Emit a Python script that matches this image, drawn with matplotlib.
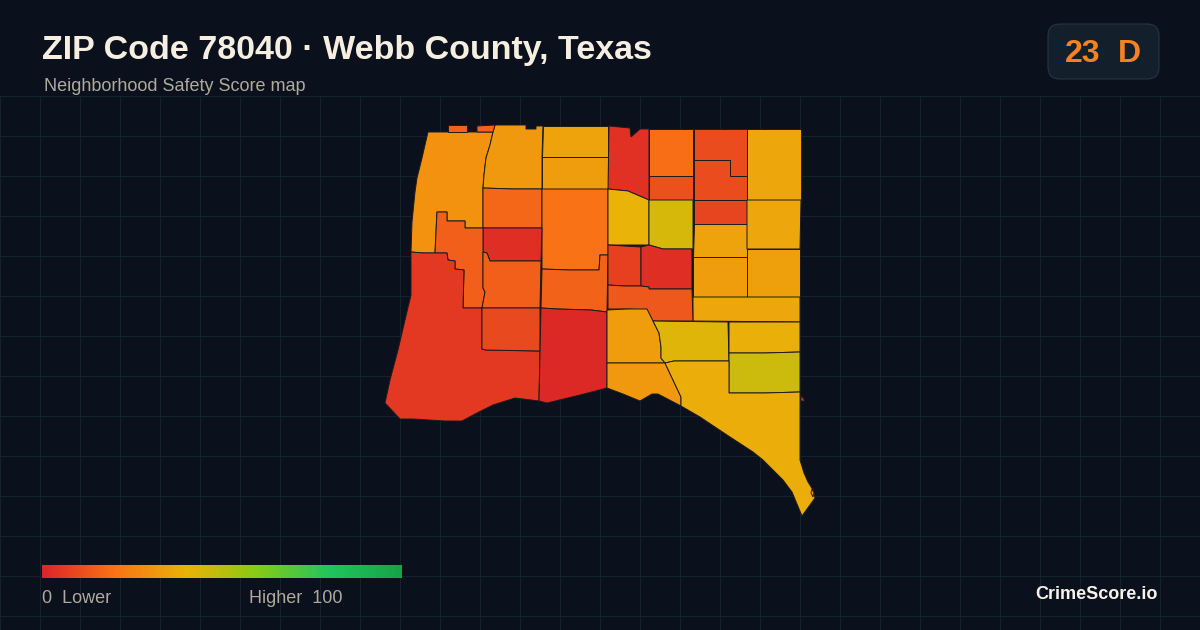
import numpy as np
import matplotlib
matplotlib.use("Agg")
import matplotlib.pyplot as plt
from matplotlib.colors import LinearSegmentedColormap
from matplotlib.patches import FancyBboxPatch, Polygon

# score of each block group, same order as tract_outlines
tract_scores = [
    30, 32, 35, 33, 17, 20, 2, 15, 15, 16, 5, 9, 1,
    3, 19, 11, 10, 10, 36, 40, 44, 8, 35, 33, 36, 34,
    36, 7, 2, 13, 33, 42, 39, 46, 32, 38, 16, 16, 5, 30,
]

tract_outlines = [
    [(428, 132), (493, 132), (490, 145), (486, 158), (484, 175), (483, 188), (483, 228), (465, 228),
     (465, 221), (447, 221), (447, 212), (437, 212), (436, 232), (435, 253), (423, 253), (411, 252),
     (412, 222), (415, 192), (417, 178), (422, 158)],
    [(495, 125), (526, 125), (526, 129), (536, 129), (536, 126), (543, 126), (542, 157), (542, 189),
     (513, 189), (483, 188), (484, 175), (486, 158), (490, 145), (493, 132)],
    [(543, 126), (608, 126), (608, 157), (542, 157)],
    [(542, 157), (608, 157), (608, 189), (542, 189)],
    [(483, 188), (513, 189), (542, 189), (542, 228), (483, 228)],
    [(542, 189), (608, 189), (608, 255), (600, 255), (599, 270), (570, 270), (542, 269)],
    [(483, 228), (542, 228), (541, 261), (490, 261), (487, 253), (483, 252)],
    [(437, 212), (447, 212), (447, 221), (465, 221), (465, 228), (483, 228), (483, 252), (483, 288),
     (485, 292), (482, 308), (463, 308), (464, 270), (455, 269), (455, 261), (448, 260), (447, 253),
     (435, 253), (436, 232)],
    [(483, 252), (487, 253), (490, 261), (541, 261), (540, 308), (482, 308), (485, 292), (483, 288)],
    [(542, 269), (570, 270), (599, 270), (600, 255), (608, 255), (607, 312), (591, 310), (557, 309),
     (541, 308)],
    [(411, 252), (423, 253), (435, 253), (447, 253), (448, 260), (455, 261), (455, 269), (464, 270),
     (463, 308), (482, 308), (482, 349), (486, 350), (540, 351), (539, 401), (515, 398), (493, 405),
     (477, 413), (462, 421), (445, 421), (413, 419), (400, 419), (385, 403), (390, 380), (398, 350),
     (405, 320), (411, 295)],
    [(482, 308), (540, 308), (540, 351), (486, 350), (482, 349)],
    [(541, 308), (557, 309), (591, 310), (607, 312), (607, 388), (580, 395), (547, 403), (539, 401),
     (540, 351)],
    [(609, 126), (630, 128), (631, 137), (640, 129), (649, 129), (649, 176), (649, 200), (628, 191),
     (618, 190), (608, 189)],
    [(649, 129), (693, 129), (693, 176), (649, 176)],
    [(649, 176), (693, 176), (693, 200), (649, 200)],
    [(694, 129), (747, 129), (747, 176), (730, 176), (730, 160), (694, 160)],
    [(694, 160), (730, 160), (730, 176), (747, 176), (747, 200), (694, 200)],
    [(747, 129), (801, 129), (801, 200), (747, 200)],
    [(608, 189), (618, 190), (628, 191), (649, 200), (649, 245), (629, 245), (608, 245)],
    [(649, 200), (693, 200), (693, 249), (663, 249), (649, 245)],
    [(694, 200), (747, 200), (747, 224), (694, 224)],
    [(694, 224), (747, 224), (747, 257), (693, 257)],
    [(693, 257), (747, 257), (747, 297), (693, 297)],
    [(747, 200), (801, 200), (800, 249), (747, 249)],
    [(747, 249), (800, 249), (800, 297), (747, 297)],
    [(693, 297), (800, 297), (800, 322), (693, 321)],
    [(608, 245), (624, 246), (641, 247), (641, 286), (624, 286), (608, 285)],
    [(641, 247), (649, 245), (663, 249), (692, 249), (692, 289), (649, 289), (649, 287), (641, 286)],
    [(608, 285), (624, 286), (641, 286), (649, 287), (649, 289), (692, 289), (693, 321), (653, 321),
     (647, 310), (627, 309), (608, 309)],
    [(607, 310), (627, 309), (647, 309), (653, 321), (659, 333), (661, 347), (661, 358), (665, 363),
     (607, 363)],
    [(653, 321), (728, 322), (729, 361), (674, 361), (665, 363), (661, 358), (661, 347), (659, 333)],
    [(729, 322), (800, 322), (800, 352), (765, 353), (729, 353)],
    [(729, 353), (765, 353), (800, 352), (800, 392), (765, 393), (729, 393)],
    [(607, 363), (665, 363), (681, 397), (681, 406), (658, 394), (652, 394), (640, 401), (623, 394),
     (607, 388)],
    [(665, 363), (674, 361), (729, 361), (729, 393), (765, 393), (800, 392), (800, 460), (804, 473),
     (808, 482), (813, 490), (815, 498), (802, 516), (792, 492), (783, 480), (773, 470), (763, 460),
     (753, 452), (727, 435), (700, 417), (681, 406), (681, 397)],
    [(448, 125), (467, 125), (467, 132), (448, 132)],
    [(477, 126), (495, 125), (493, 132), (477, 132)],
    [(801, 395), (805, 401), (801, 401)],
    [(812, 489), (814, 493), (813, 497), (811, 493)],
]

score_stops = [0, 20, 40, 60, 80, 100]
stop_colors = ["#dc2626", "#f97316", "#eab308", "#84cc16", "#22c55e", "#16a34a"]

title = "ZIP Code 78040 · Webb County, Texas"
subtitle = "Neighborhood Safety Score map"
badge_score = "23"
badge_grade = "D"
brand = "CrimeScore.io"

BG = "#0a111c"
GRID = "#14222e"

plt.rcParams["font.family"] = ["Liberation Sans", "DejaVu Sans"]

cmap = LinearSegmentedColormap.from_list(
    "safety", [(s / 100, c) for s, c in zip(score_stops, stop_colors)])

fig = plt.figure(figsize=(12, 6.3), dpi=100, facecolor=BG)
ax = fig.add_axes([0, 0, 1, 1])
ax.set_facecolor(BG)
ax.axis("off")

# background grid, only below the header
for x in range(0, 1201, 40):
    ax.plot([x, x], [96, 630], color=GRID, lw=0.72, zorder=1)
for y in range(96, 630, 40):
    ax.plot([0, 1200], [y, y], color=GRID, lw=0.72, zorder=1)

for outline, score in zip(tract_outlines, tract_scores):
    ax.add_patch(Polygon(outline, closed=True, facecolor=cmap(score / 100),
                         edgecolor="#1d1a1e", lw=0.7, joinstyle="miter", zorder=2))

# header
ax.text(42, 59, title, color="#f6eee0", fontsize=24.5, fontweight="bold", zorder=5)
ax.text(44, 91, subtitle, color="#b0aa9d", fontsize=13, zorder=5)

badge = FancyBboxPatch((1060, 36), 87, 31, boxstyle="round,pad=12,rounding_size=12",
                       facecolor="#141f2c", edgecolor="#283442", lw=0.8, zorder=4)
ax.add_patch(badge)
ax.text(1065, 62, badge_score, color="#f5821f", fontsize=23, fontweight="bold", zorder=5)
ax.text(1141, 62, badge_grade, color="#f5821f", fontsize=23, fontweight="bold", ha="right", zorder=5)

# colour legend
gradient = np.linspace(0, 1, 360).reshape(1, -1)
ax.imshow(gradient, cmap=cmap, extent=(42, 402, 578, 565), aspect="auto", zorder=4)
ax.text(42, 603, "0  Lower", color="#b0aa9d", fontsize=13, zorder=5)
ax.text(249, 603, "Higher  100", color="#b0aa9d", fontsize=13, zorder=5)

ax.text(1158, 599, brand, color="#f8f4ec", fontsize=13, fontweight="bold", ha="right", zorder=5)

ax.set_xlim(0, 1200)
ax.set_ylim(630, 0)

fig.savefig("out.png", dpi=100, facecolor=BG)
